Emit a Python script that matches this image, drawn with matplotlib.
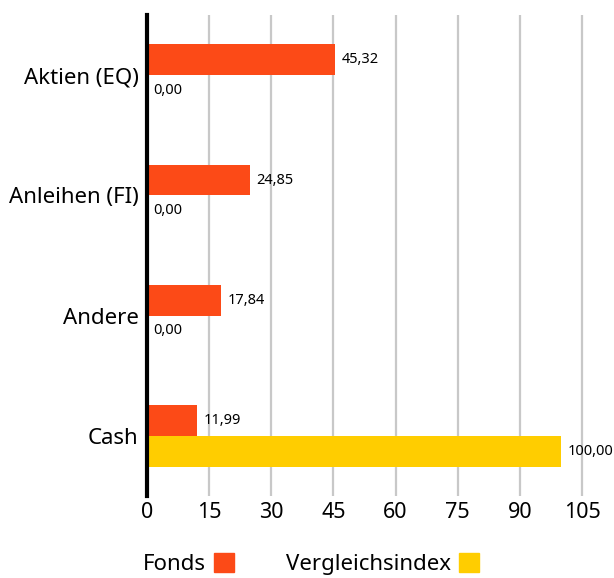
import matplotlib
matplotlib.use("Agg")
import matplotlib.pyplot as plt
from matplotlib.patches import Patch

plt.rcParams['font.family'] = ['Noto Sans', 'DejaVu Sans']

categories = ['Aktien (EQ)', 'Anleihen (FI)', 'Andere', 'Cash']
fonds = [45.32, 24.85, 17.84, 11.99]
vergleich = [0.00, 0.00, 0.00, 100.00]
xticks = [0, 15, 30, 45, 60, 75, 90, 105]

c_fonds = '#FC4A17'
c_vgl = '#FFCD00'

fig = plt.figure(figsize=(6.14, 5.78), dpi=100)
ax = fig.add_axes([147 / 614, 1 - 496 / 578, 1 - 147 / 614, (496 - 15) / 578])

pos = list(range(len(categories)))
h = 0.255
ax.barh([p - h / 2 for p in pos], fonds, height=h, color=c_fonds, zorder=3)
ax.barh([p + h / 2 for p in pos], vergleich, height=h, color=c_vgl, zorder=3)

def fmt(v):
    return f'{v:.2f}'.replace('.', ',')

for p, v in zip(pos, fonds):
    ax.text(v + 1.6, p - h / 2, fmt(v), va='center', ha='left', fontsize=10.5)
for p, v in zip(pos, vergleich):
    ax.text(v + 1.6, p + h / 2, fmt(v), va='center', ha='left', fontsize=10.5)

ax.set_ylim(len(categories) - 0.5, -0.5)
ax.set_xlim(0, 112.7)
ax.set_yticks(pos)
ax.set_yticklabels(categories, fontsize=16)
ax.set_xticks(xticks)
ax.set_xticklabels([str(t) for t in xticks], fontsize=15.5)
ax.tick_params(axis='both', length=0)
ax.tick_params(axis='y', pad=6)
ax.tick_params(axis='x', pad=4)

ax.grid(axis='x', color='#C8C8C8', linewidth=1.6, zorder=0)
for s in ['top', 'right', 'bottom']:
    ax.spines[s].set_visible(False)
ax.spines['left'].set_linewidth(3)
ax.spines['left'].set_color('black')
ax.spines['left'].set_zorder(4)

handles = [Patch(color=c_fonds, label='Fonds'), Patch(color=c_vgl, label='Vergleichsindex')]
fig.legend(handles=handles, loc='center', bbox_to_anchor=(311 / 614, 1 - 564 / 578), ncol=2,
           frameon=False, markerfirst=False, fontsize=16, handlelength=0.9, handleheight=0.9,
           columnspacing=2.3, handletextpad=0.4, borderpad=0, borderaxespad=0)

fig.savefig('out.png', dpi=100)
